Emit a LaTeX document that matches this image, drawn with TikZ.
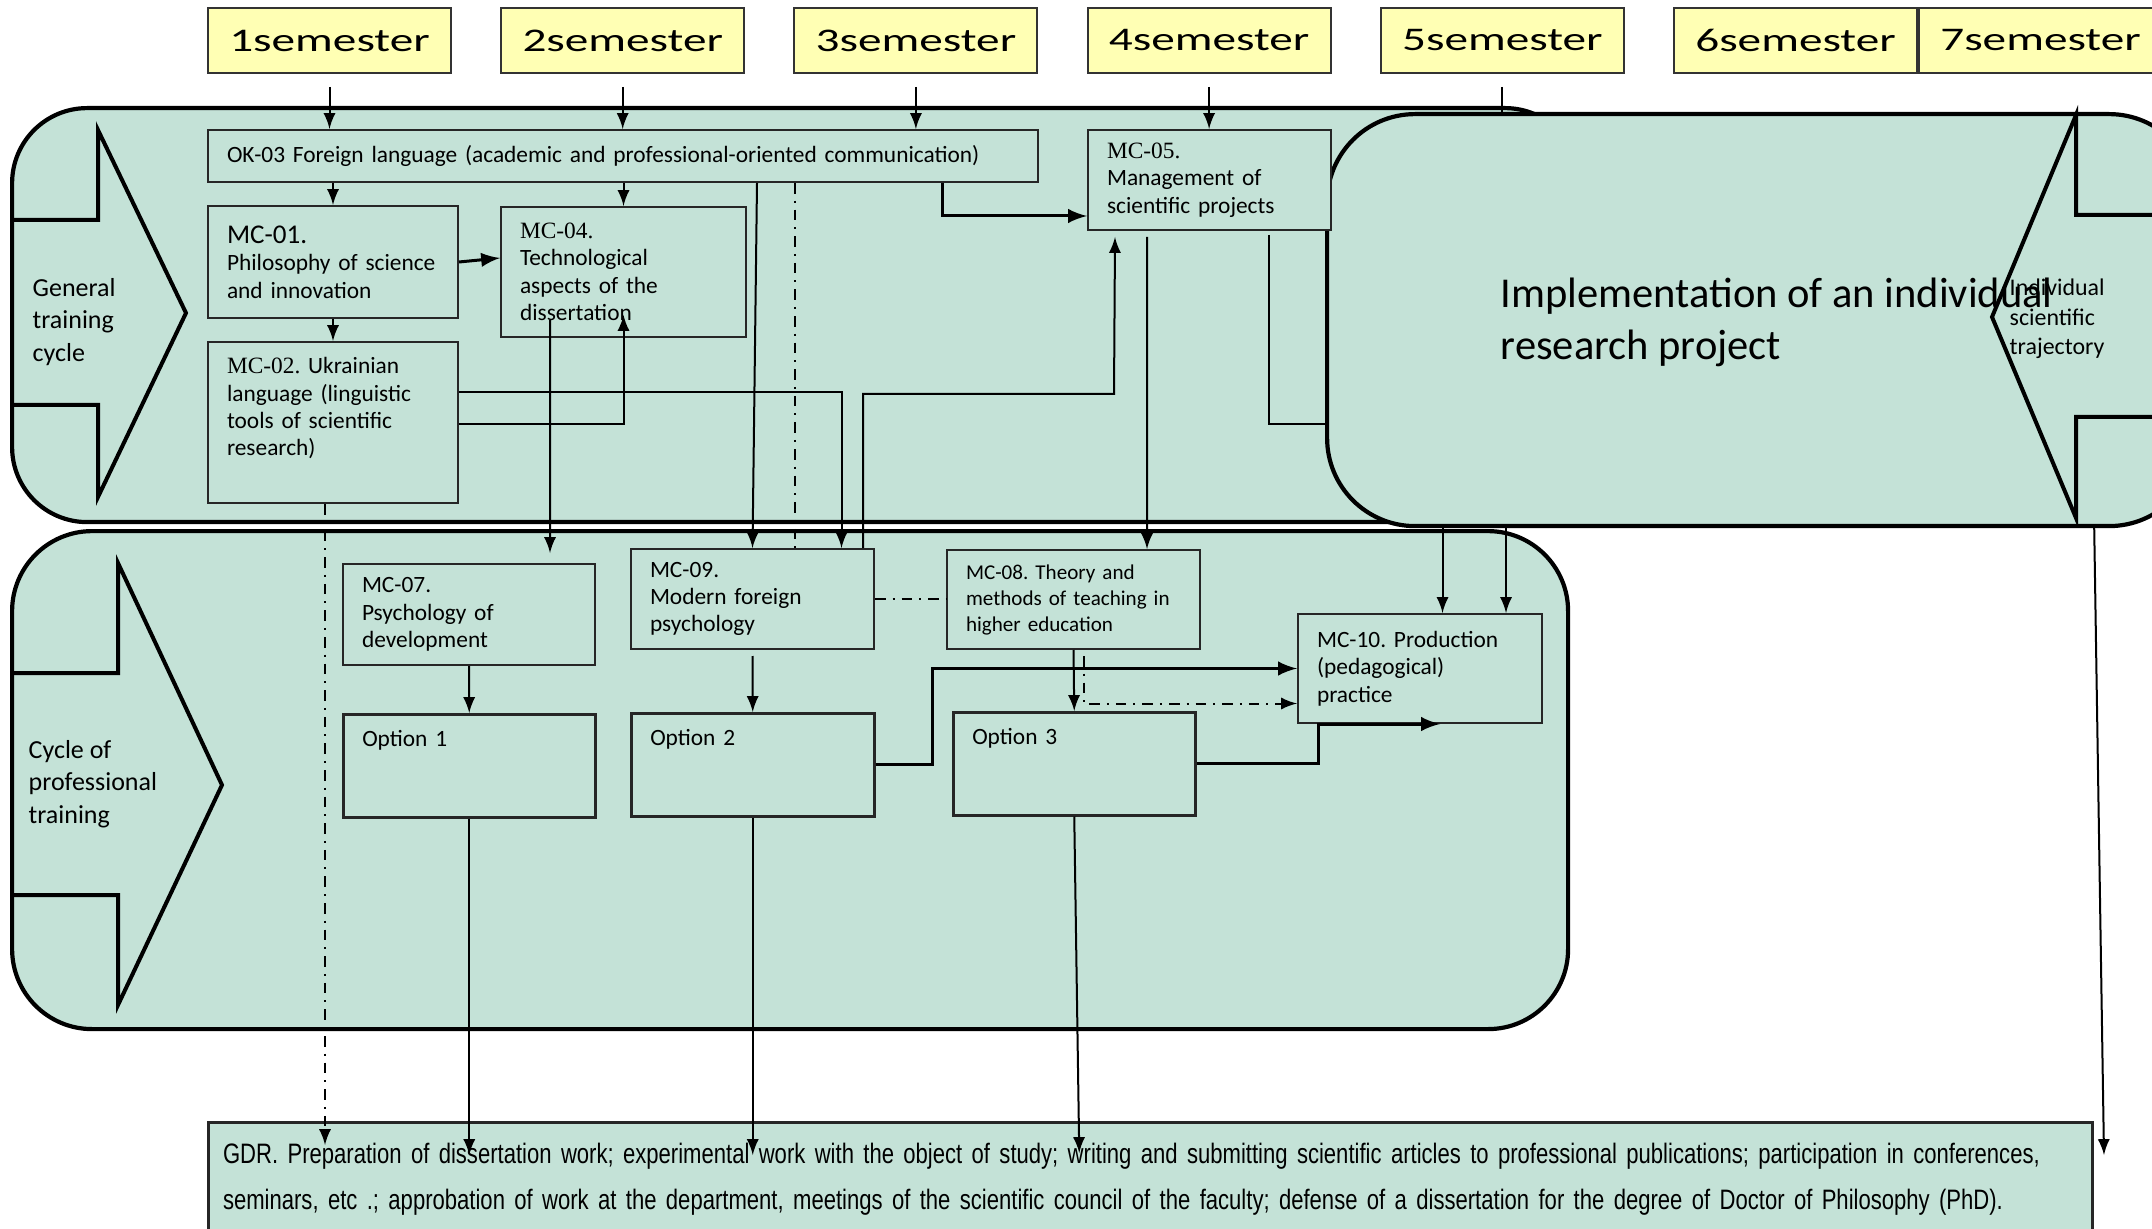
\documentclass[tikz,border=0pt]{standalone}
\usepackage{fontspec}
\setmainfont{Carlito}
\newfontfamily\semfont[FakeStretch=1.43]{Carlito}
\newfontfamily\mcserif{Liberation Serif}
\newfontfamily\gdrfont[FakeStretch=0.785]{Liberation Sans}
\usetikzlibrary{positioning}
\definecolor{panelgreen}{RGB}{196,226,215}
\definecolor{semyellow}{RGB}{255,255,180}
\frenchspacing
\tikzset{
  panel/.style={draw, line width=0.42mm, fill=panelgreen, anchor=north west, inner sep=0pt},
  sem/.style={draw=black!80, line width=0.2mm, fill=semyellow, minimum width=24.3mm, minimum height=6.5mm, inner sep=0pt, anchor=north west, font=\semfont\fontsize{9.4pt}{11pt}\selectfont},
  mod/.style={draw=black!85, line width=0.2mm, fill=panelgreen, anchor=north west, align=left, inner xsep=1.9mm, inner ysep=0pt, font=\fontsize{6.65pt}{7.8pt}\selectfont},
  opt/.style={mod, text height=1.8mm, text depth=5.7mm, inner ysep=1.4mm},
  cycletext/.style={align=left, anchor=west, inner sep=0pt, font=\fontsize{7.4pt}{9.3pt}\selectfont},
  link/.style={line width=0.2mm, -latex},
  thicklink/.style={line width=0.3mm, -latex},
  dlink/.style={line width=0.2mm, dash dot},
}
\begin{document}
\begin{tikzpicture}[x=0.1mm,y=-0.1mm]
\useasboundingbox (0,0) rectangle (2152,1229);

% the two training cycles
\node[panel, minimum width=156.8mm, minimum height=41.4mm, rounded corners=7.5mm] (gen) at (10,106) {};
\node[panel, minimum width=155.6mm, minimum height=49.8mm, rounded corners=8mm] (prof) at (10,529) {};
\draw[line width=0.4mm] (10,220) -- (98,220) -- (98,130) -- (186,313) -- (98,497) -- (98,405) -- (10,405);
\draw[line width=0.4mm] (10,673) -- (118,673) -- (118,563) -- (222,785) -- (118,1005) -- (118,895) -- (10,895);
\node[cycletext] (gentext) at (32,322) {General\\training\\cycle};
\node[cycletext] (proftext) at (28,784) {Cycle of\\professional\\training};

% individual research project
\node[panel, minimum width=87mm, minimum height=41.2mm, rounded corners=8.8mm] (impl) at (1325,112) {};
\node[anchor=west, align=left, inner sep=0pt, font=\fontsize{12.1pt}{14.8pt}\selectfont] (impltext) at (1500,322) {Implementation of an individual\\research project};
\draw[line width=0.4mm] (2160,215) -- (2076,215) -- (2076,115) -- (1992,317) -- (2076,518) -- (2076,417) -- (2160,417);
\node[anchor=west, align=left, inner sep=0pt, font=\fontsize{6.8pt}{8.4pt}\selectfont] (trajtext) at (2009,319) {Individual\\scientific\\trajectory};

% semesters
\foreach \i in {1,...,6}
  \node[sem] (s\i) at ({207+293.2*(\i-1)},7) {\i semester};
\node[sem, right=0pt of s6] (s7) {7semester};

% modules
\node[mod, minimum width=83mm, minimum height=5.2mm, text width=79.2mm] (ok03) at (207,129) {OK-03 Foreign language (academic and professional-oriented communication)};
\node[mod, minimum width=25mm, minimum height=11.2mm, text width=21.2mm] (mc01) at (207,205) {{\fontsize{7.7pt}{9pt}\selectfont MC-01.}\\Philosophy of science\\and innovation};
\node[mod, minimum width=24.5mm, minimum height=13mm, text width=20.7mm] (mc04) at (500,206) {{\mcserif MC-04.}\\Technological\\aspects of the\\dissertation};
\node[mod, minimum width=25mm, minimum height=16.1mm, text width=21.2mm, text depth=11.4mm] (mc02) at (207,341) {{\mcserif MC-02.} Ukrainian\\language (linguistic\\tools of scientific\\research)};
\node[mod, minimum width=24.3mm, minimum height=10mm, text width=20.5mm] (mc05) at (1087,129) {{\mcserif MC-05.}\\Management of\\scientific projects};
\node[mod, minimum width=25.2mm, minimum height=10.1mm, text width=21.4mm] (mc07) at (342,563) {MC-07.\\Psychology of\\development};
\node[mod, minimum width=24.3mm, minimum height=10mm, text width=20.5mm] (mc09) at (630,548) {MC-09.\\Modern foreign\\psychology};
\node[mod, minimum width=25.3mm, minimum height=9.9mm, text width=21.5mm, font=\fontsize{6pt}{7.4pt}\selectfont] (mc08) at (946,549) {MC-08. Theory and\\methods of teaching in\\higher education};
\node[mod, minimum width=24.4mm, minimum height=10.9mm, text width=20.6mm] (mc10) at (1297,613) {MC-10. Production\\(pedagogical)\\practice};
\node[opt, text width=21.4mm, line width=0.25mm] (opt1) at (342,713) {Option 1};
\node[opt, text width=20.5mm, line width=0.25mm] (opt2) at (630,712) {Option 2};
\node[opt, text width=20.4mm, line width=0.25mm] (opt3) at (952,711) {Option 3};
\node[mod, line width=0.3mm, inner xsep=1.45mm, inner ysep=2.1mm, text width=185.5mm, text depth=8mm, font=\gdrfont\fontsize{8pt}{12.9pt}\selectfont] (gdr) at (207,1121) {GDR. Preparation of dissertation work; experimental work with the object of study; writing and submitting scientific articles to professional publications; participation in conferences,\\seminars, etc .; approbation of work at the department, meetings of the scientific council of the faculty; defense of a dissertation for the degree of Doctor of Philosophy (PhD).};

% links
\foreach \s in {s1,s2,s3}
  \draw[link] ([yshift=-1.3mm]\s.south) -- (\s.south |- ok03.north);
\draw[link] ([yshift=-1.3mm]s4.south) -- (s4.south |- mc05.north);
\draw[line width=0.2mm] ([yshift=-1.3mm]s5.south) -- (s5.south |- impl.north);
\draw[link] (ok03.south -| mc01.north) -- (mc01.north);
\draw[link] (ok03.south -| mc04.north) -- (mc04.north);
\draw[link] (mc01.south) -- (mc02.north);
\draw[thicklink] (mc01.east) -- ([yshift=1.4mm]mc04.west);
\draw[thicklink] ([xshift=-9.7mm]ok03.south east) |- ([yshift=-3.6mm]mc05.west);
\draw[link] ([xshift=13.4mm]ok03.south) -- (mc09.north);
\draw[dlink] ([xshift=17.2mm]ok03.south) -- ([xshift=17.2mm]ok03.south |- mc09.north);
\draw[link] ([yshift=3mm]mc02.east) -| ([xshift=8.9mm]mc09.north);
\draw[link] ([yshift=-0.2mm]mc02.east) -| ([yshift=2.3mm]mc04.south);
\draw[link] ([xshift=-7.35mm,yshift=1.8mm]mc04.south) -- ([xshift=8.1mm,yshift=1mm]mc07.north);
\draw[dlink, -latex] ([xshift=-0.8mm]mc02.south) -- ([xshift=-0.8mm,yshift=-2.4mm]mc02.south |- gdr.north);
\draw[link] ([xshift=-6.25mm,yshift=-0.6mm]mc05.south) -- ([xshift=7.35mm]mc08.north);
\draw[link] ([xshift=11.05mm]mc09.north) |- (1114,394) -- ([xshift=-9.45mm,yshift=-0.6mm]mc05.south);
\draw[line width=0.2mm] ([xshift=5.95mm,yshift=-0.4mm]mc05.south) |- ([yshift=-10.4mm]impl.west);
\draw[link] (mc07.south) -- (opt1.north);
\draw[link] ([yshift=-0.6mm]mc09.south) -- (opt2.north);
\draw[dlink] (mc09.east) -- (mc09.east -| mc08.west);
\draw[link] (mc08.south) -- (opt3.north);
\draw[dlink, -latex] ([xshift=1mm,yshift=-0.6mm]mc08.south) |- ([yshift=-3.5mm]mc10.west);
\draw[thicklink] (opt2.east) -- ++(57,0) |- (mc10.west);
\draw[thicklink] (opt3.east) -| ([xshift=2.15mm]mc10.south west) -- ([xshift=14.3mm]mc10.south west);
\draw[link] ([xshift=2.25mm]mc10.north |- impl.south) -- ([xshift=2.25mm]mc10.north);
\draw[link] ([xshift=8.6mm]mc10.north |- impl.south) -- ([xshift=8.6mm]mc10.north);
\draw[link] ([xshift=-10.5mm]impl.south east) -- ([xshift=1mm,yshift=-3.4mm]gdr.north east);
\draw[link] (opt1.south) -- ([yshift=-3.4mm]opt1.south |- gdr.north);
\draw[link] (opt2.south) -- ([yshift=-3.4mm]opt2.south |- gdr.north);
\draw[link] (opt3.south) -- ([xshift=0.5mm,yshift=-3.2mm]opt3.south |- gdr.north);
\end{tikzpicture}
\end{document}
